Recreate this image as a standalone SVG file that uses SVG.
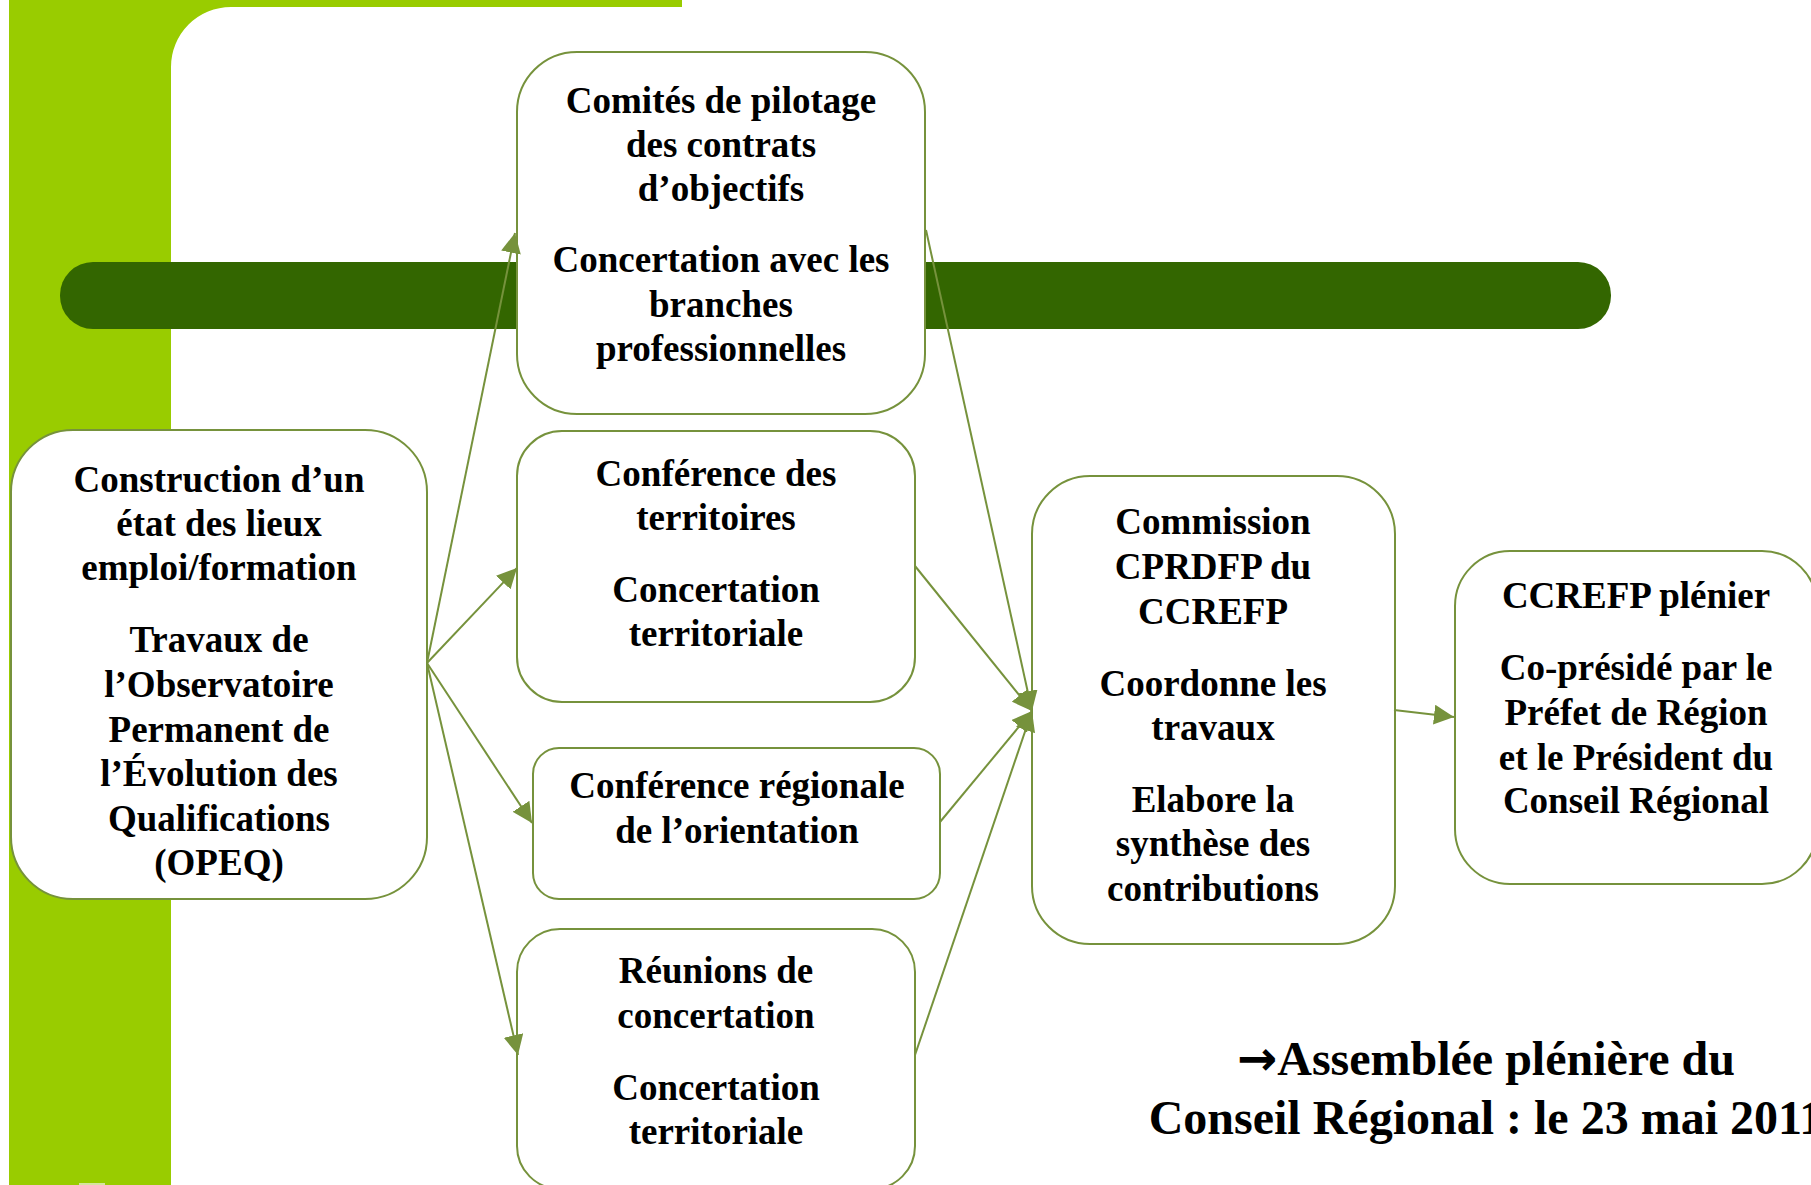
<svg xmlns="http://www.w3.org/2000/svg" width="1811" height="1185" viewBox="0 0 1811 1185">
<style>
.box{fill:#FFFFFF;stroke:#76923C;stroke-width:2}
.t{font-family:"Liberation Serif","Times New Roman",serif;font-weight:bold;font-size:37px;fill:#000000;text-anchor:middle}
.big{font-family:"Liberation Serif","Times New Roman",serif;font-weight:bold;font-size:48px;fill:#000000;text-anchor:middle}
.arrowglyph{font-family:"DejaVu Sans",sans-serif;font-weight:bold}
.con{fill:none;stroke:#76923C;stroke-width:2}
</style>
<defs>
<marker id="arr" markerUnits="userSpaceOnUse" markerWidth="21" markerHeight="20" refX="20" refY="10" orient="auto">
<path d="M0,0 L20,10 L0,20 Z" fill="#76923C"/>
</marker>
</defs>
<rect width="1811" height="1185" fill="#FFFFFF"/>
<g id="background">
<path d="M9,0 H682 V7 H231 A60,60 0 0 0 171,67 V1185 H9 Z" fill="#99CC00"/>
<rect x="79" y="1183" width="26" height="2" fill="#D4E6A0"/>
<rect x="60" y="262" width="1551" height="67" rx="33" ry="33" fill="#336600"/>
</g>
<g id="node-etat-des-lieux">
<rect class="box" x="11" y="430" width="416" height="469" rx="62"/>
<text class="t" x="219" y="492">Construction d’un</text>
<text class="t" x="219" y="536">état des lieux</text>
<text class="t" x="219" y="580">emploi/formation</text>
<text class="t" x="219" y="652">Travaux de</text>
<text class="t" x="219" y="697">l’Observatoire</text>
<text class="t" x="219" y="742">Permanent de</text>
<text class="t" x="219" y="786">l’Évolution des</text>
<text class="t" x="219" y="831">Qualifications</text>
<text class="t" x="219" y="875">(OPEQ)</text>
</g>
<g id="node-comites-pilotage">
<rect class="box" x="517" y="52" width="408" height="362" rx="60"/>
<text class="t" x="721" y="113">Comités de pilotage</text>
<text class="t" x="721" y="157">des contrats</text>
<text class="t" x="721" y="201">d’objectifs</text>
<text class="t" x="721" y="272">Concertation avec les</text>
<text class="t" x="721" y="317">branches</text>
<text class="t" x="721" y="361">professionnelles</text>
</g>
<g id="node-conference-territoires">
<rect class="box" x="517" y="431" width="398" height="271" rx="45"/>
<text class="t" x="716" y="486">Conférence des</text>
<text class="t" x="716" y="530">territoires</text>
<text class="t" x="716" y="602">Concertation</text>
<text class="t" x="716" y="646">territoriale</text>
</g>
<g id="node-conference-orientation">
<rect class="box" x="533" y="748" width="407" height="151" rx="26"/>
<text class="t" x="737" y="798">Conférence régionale</text>
<text class="t" x="737" y="843">de l’orientation</text>
</g>
<g id="node-reunions-concertation">
<rect class="box" x="517" y="929" width="398" height="260" rx="43"/>
<text class="t" x="716" y="983">Réunions de</text>
<text class="t" x="716" y="1028">concertation</text>
<text class="t" x="716" y="1100">Concertation</text>
<text class="t" x="716" y="1144">territoriale</text>
</g>
<g id="node-commission-cprdfp">
<rect class="box" x="1032" y="476" width="363" height="468" rx="58"/>
<text class="t" x="1213" y="534">Commission</text>
<text class="t" x="1213" y="579">CPRDFP du</text>
<text class="t" x="1213" y="624">CCREFP</text>
<text class="t" x="1213" y="696">Coordonne les</text>
<text class="t" x="1213" y="740">travaux</text>
<text class="t" x="1213" y="812">Elabore la</text>
<text class="t" x="1213" y="856">synthèse des</text>
<text class="t" x="1213" y="901">contributions</text>
</g>
<g id="node-ccrefp-plenier">
<rect class="box" x="1455" y="551" width="362" height="333" rx="55"/>
<text class="t" x="1636" y="608">CCREFP plénier</text>
<text class="t" x="1636" y="680">Co-présidé par le</text>
<text class="t" x="1636" y="725">Préfet de Région</text>
<text class="t" x="1636" y="770">et le Président du</text>
<text class="t" x="1636" y="813">Conseil Régional</text>
</g>
<g id="note-assemblee">
<text class="big" x="1486" y="1075"><tspan class="arrowglyph">→</tspan>Assemblée plénière du</text>
<text class="big" x="1486" y="1134">Conseil Régional : le 23 mai 2011</text>
</g>
<g id="connectors">
<line class="con" x1="427" y1="663" x2="515" y2="233" marker-end="url(#arr)"/>
<line class="con" x1="427" y1="663" x2="517" y2="568" marker-end="url(#arr)"/>
<line class="con" x1="427" y1="663" x2="532" y2="823" marker-end="url(#arr)"/>
<line class="con" x1="427" y1="663" x2="518" y2="1055" marker-end="url(#arr)"/>
<line class="con" x1="926" y1="230" x2="1032" y2="711" marker-end="url(#arr)"/>
<line class="con" x1="915" y1="566" x2="1032" y2="711" marker-end="url(#arr)"/>
<line class="con" x1="940" y1="822" x2="1032" y2="711" marker-end="url(#arr)"/>
<line class="con" x1="915" y1="1055" x2="1032" y2="711" marker-end="url(#arr)"/>
<line class="con" x1="1394" y1="710" x2="1454" y2="717" marker-end="url(#arr)"/>
</g>
</svg>
